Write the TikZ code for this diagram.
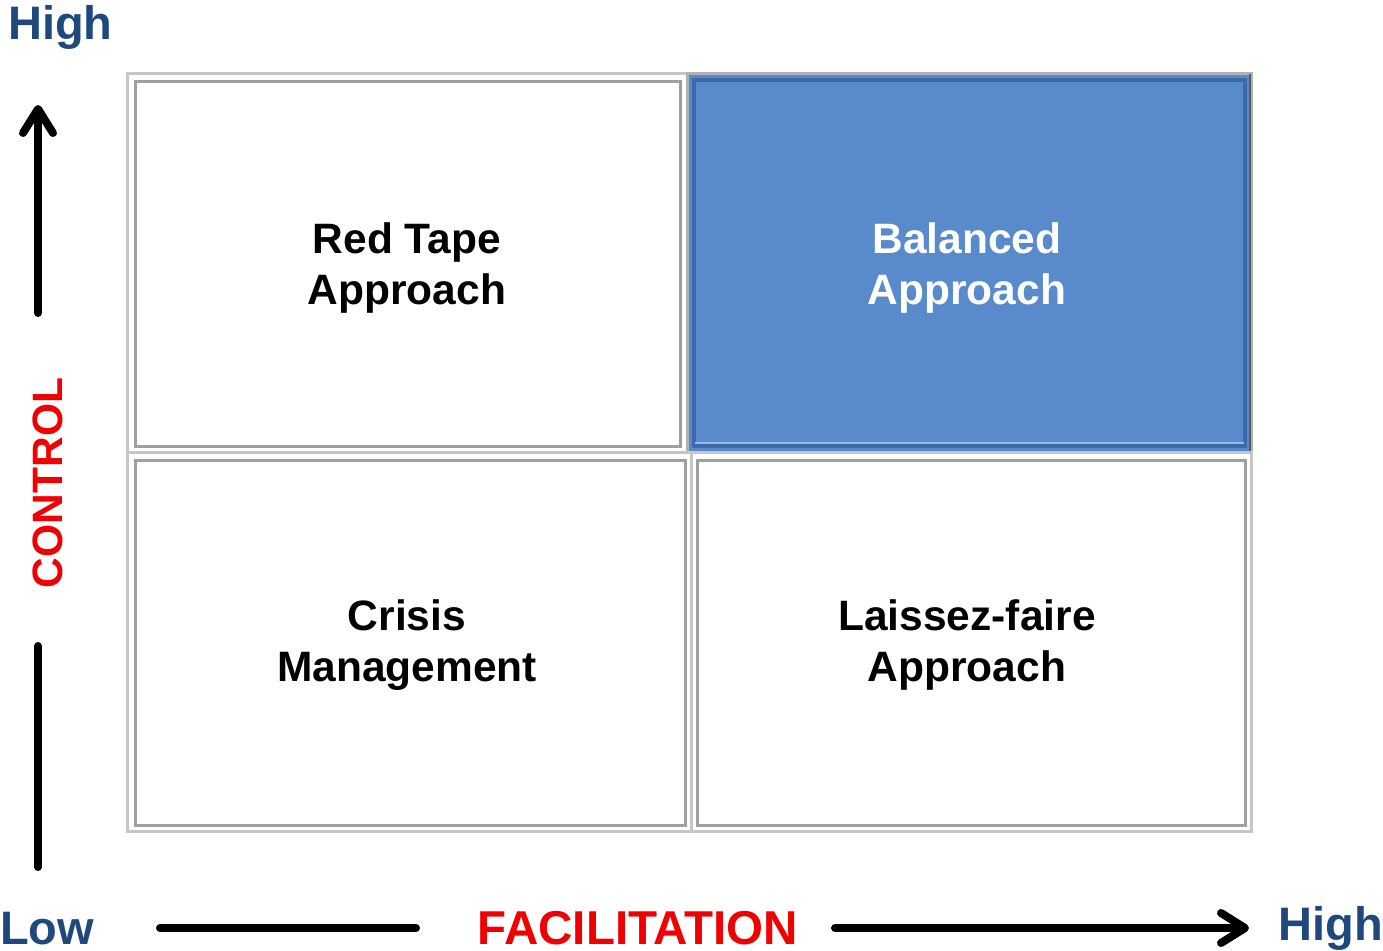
\documentclass[tikz,border=0pt]{standalone}
\usepackage{fontspec}
\setmainfont{Liberation Sans}
\usetikzlibrary{arrows.meta}
\definecolor{navy}{RGB}{31,73,125}
\definecolor{cred}{RGB}{240,0,0}
\definecolor{cblue}{RGB}{88,138,204}
\definecolor{cbluedark}{RGB}{60,105,170}
\tikzset{
  cell/.style={draw=gray!45, line width=3pt, inner sep=0pt, outer sep=0pt, fill=white},
  cellin/.style={draw=gray!75, line width=3pt},
  celltext/.style={font=\bfseries\fontsize{42.5}{51}\selectfont, align=center, text=black},
  axis/.style={line width=8pt, line cap=round},
  axistip/.style={-{Straight Barb[length=24pt,width=30pt,line width=8pt,round]}},
  hi/.style={font=\bfseries\fontsize{47}{51}\selectfont, text=navy, inner sep=0pt},
  axlabel/.style={font=\bfseries\fontsize{47.5}{51}\selectfont, text=cred, inner sep=0pt},
  ctllabel/.style={font=\bfseries\fontsize{42.5}{51}\selectfont, text=cred, inner sep=0pt}
}
\begin{document}
\begin{tikzpicture}[x=1pt,y=-1pt]
\useasboundingbox (0,0) rectangle (1383,950);
% cells
\draw[cell] (127,73) rectangle (687,452);
\draw[cellin] (135,81) rectangle (680,446);
\draw[cell, fill=cblue, draw=gray!60] (687,73) rectangle (1251,452);
\draw[draw=cbluedark, line width=4pt] (694,80) rectangle (1245,446);
\draw[draw=cblue!60!white, line width=2pt] (695,443) -- (1244,443);
\draw[draw=gray!70!black, line width=2pt] (1250,74) -- (1250,451);
\draw[cell] (127,452) rectangle (691,831);
\draw[cellin] (135,460) rectangle (685,825);
\draw[cell] (691,452) rectangle (1251,831);
\draw[cellin] (697,460) rectangle (1245,825);
% labels in cells
\node[celltext] (rt) at (407,268) {Red Tape\\Approach};
\node[celltext, text=white] (ba) at (967,268) {Balanced\\Approach};
\node[celltext] (cm) at (407,645) {Crisis\\Management};
\node[celltext] (lf) at (967,645) {Laissez-faire\\Approach};
% axis labels
\node[hi, anchor=base west] (hitop) at (8,40) {High};
\node[hi, anchor=base east] (hiright) at (1383,940) {High};
\node[hi, anchor=base west] (low) at (0,944) {Low};
\node[axlabel, anchor=base] (fac) at (638,944) {FACILITATION};
\node[ctllabel, rotate=90, anchor=base] (ctl) at (62,483) {CONTROL};
% arrows
\coordinate (vb) at (38,313);
\coordinate (vt) at (38,105);
\coordinate (vl1) at (38,646);
\coordinate (vl2) at (38,867);
\coordinate (h1) at (160,928);
\coordinate (h2) at (416,928);
\coordinate (h3) at (835,928);
\coordinate (h4) at (1249,928);
\draw[axis, axistip] (vb) -- (vt);
\draw[axis] (vl1) -- (vl2);
\draw[axis] (h1) -- (h2);
\draw[axis, axistip] (h3) -- (h4);
\end{tikzpicture}
\end{document}
